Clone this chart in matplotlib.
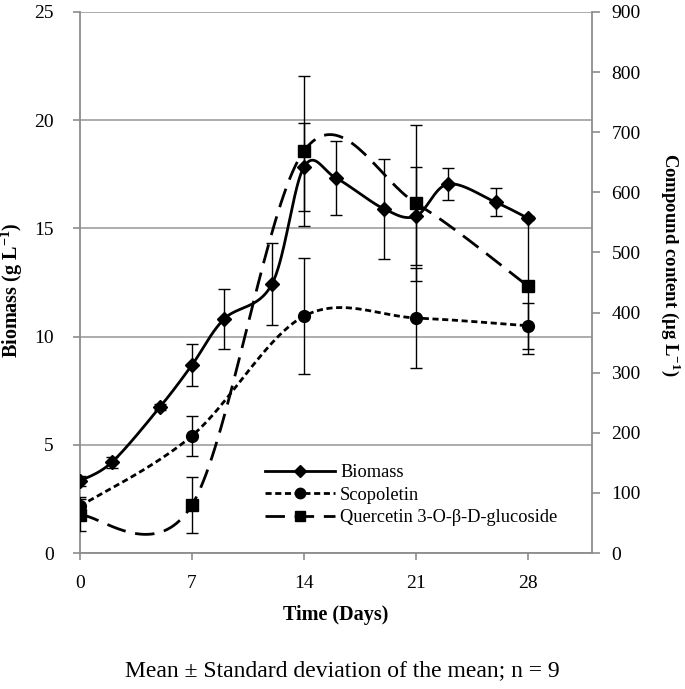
import numpy as np
import matplotlib
matplotlib.use("Agg")
import matplotlib.pyplot as plt
from matplotlib.lines import Line2D

plt.rcParams['font.family'] = ['Liberation Serif', 'DejaVu Serif']
plt.rcParams['mathtext.fontset'] = 'custom'
plt.rcParams['mathtext.rm'] = 'Liberation Serif'
plt.rcParams['mathtext.bf'] = 'Liberation Serif:bold'

# ---- data ----
biomass_days = [0, 2, 5, 7, 9, 12, 14, 16, 19, 21, 23, 26, 28]
biomass = [3.33, 4.2, 6.75, 8.69, 10.81, 12.43, 17.84, 17.33, 15.9, 15.57, 17.05, 16.2, 15.47]
biomass_err = [0.25, 0.25, 0.15, 0.95, 1.4, 1.9, 2.05, 1.7, 2.3, 2.25, 0.72, 0.65, 0.1]

compound_days = [0, 7, 14, 21, 28]
scopoletin = [78, 195, 394, 391, 378]
scopoletin_err = [15, 33, 96, 83, 38]
quercetin = [63, 80, 669, 582, 444]
quercetin_err = [27, 47, 125, 130, 113]

x_ticks = [0, 7, 14, 21, 28]
left_ticks = [0, 5, 10, 15, 20, 25]
right_ticks = list(range(0, 901, 100))

labels = ["Biomass", "Scopoletin", "Quercetin 3-O-\u03b2-D-glucoside"]


def smooth(x, y, n=40):
    """Excel-like smoothed line (Catmull-Rom Bezier) through the points."""
    x = np.asarray(x, float)
    y = np.asarray(y, float)
    P = np.column_stack([x, y])
    pts = [P[0]]
    N = len(P)
    for i in range(N - 1):
        p0 = P[i - 1] if i > 0 else P[i]
        p1 = P[i]
        p2 = P[i + 1]
        p3 = P[i + 2] if i + 2 < N else P[i + 1]
        c1 = p1 + (p2 - p0) / 6.0
        c2 = p2 - (p3 - p1) / 6.0
        t = np.linspace(0, 1, n)[1:, None]
        seg = ((1 - t) ** 3) * p1 + 3 * ((1 - t) ** 2) * t * c1 + 3 * (1 - t) * t ** 2 * c2 + t ** 3 * p2
        pts.extend(seg)
    pts = np.array(pts)
    return pts[:, 0], pts[:, 1]


W, H = 685, 689
fig = plt.figure(figsize=(W / 100, H / 100), dpi=100)
ax = fig.add_axes([80 / W, 1 - 553 / H, (592 - 80) / W, (553 - 12) / H])
ax2 = ax.twinx()

grey = '#8c8c8c'
lw = 2.0

# biomass (left axis)
bx, by = smooth(biomass_days, biomass)
ax.plot(bx, by, color='black', lw=lw, solid_capstyle='butt', zorder=3)
ax.errorbar(biomass_days, biomass, yerr=biomass_err, fmt='none', ecolor='black',
            elinewidth=1.0, capsize=4.5, capthick=1.0, zorder=3)
ax.plot(biomass_days, biomass, 'D', color='black', ms=7.5, zorder=4)

# compounds (right axis)
sx, sy = smooth(compound_days, scopoletin)
ax2.plot(sx, sy, color='black', lw=lw, dashes=(2.2, 1.3), zorder=3)
ax2.errorbar(compound_days, scopoletin, yerr=scopoletin_err, fmt='none', ecolor='black',
             elinewidth=1.0, capsize=4.5, capthick=1.0, zorder=3)
ax2.plot(compound_days, scopoletin, 'o', color='black', ms=8.5, zorder=4)

qx, qy = smooth(compound_days, quercetin)
ax2.plot(qx, qy, color='black', lw=lw, dashes=(7, 3.5), zorder=3)
ax2.errorbar(compound_days, quercetin, yerr=quercetin_err, fmt='none', ecolor='black',
             elinewidth=1.0, capsize=4.5, capthick=1.0, zorder=3)
ax2.plot(compound_days, quercetin, 's', color='black', ms=8, zorder=4)

# axes styling
ax.set_xlim(0, 32)
ax.set_ylim(0, 25)
ax2.set_ylim(0, 900)
ax.set_xticks(x_ticks)
ax.set_yticks(left_ticks)
ax2.set_yticks(right_ticks)
ax.yaxis.grid(True, color='#a6a6a6', lw=1.3)
ax.set_axisbelow(True)

for a in (ax, ax2):
    a.spines['top'].set_visible(False)
    for s in ['left', 'right', 'bottom']:
        a.spines[s].set_color(grey)
        a.spines[s].set_linewidth(1.3)
ax.spines['right'].set_visible(False)
ax2.spines['left'].set_visible(False)
ax2.spines['bottom'].set_visible(False)

ax.tick_params(axis='x', direction='out', length=5, width=1.2, color=grey,
               labelsize=14, pad=11)
ax.tick_params(axis='y', direction='out', length=5, width=1.2, color=grey,
               labelsize=14, pad=14)
ax2.tick_params(axis='y', direction='out', length=6, width=1.2, color=grey,
                labelsize=14, pad=8)

ax.set_xlabel('Time (Days)', fontsize=14.5, fontweight='bold', va='center')
ax.xaxis.set_label_coords(0.5, -(615 - 553) / 541)
ax.set_ylabel('Biomass (g L$^{\\mathbf{-1}}$)', fontsize=14.5, fontweight='bold',
              va='center', ha='center')
ax.yaxis.set_label_coords((12 - 80) / 512, (553 - 290) / 541)
ax2.set_ylabel('Compound content (\u03bcg L$^{\\mathbf{-1}}$)', fontsize=13.5,
               fontweight='bold', rotation=270, va='center', ha='center')
ax2.yaxis.set_label_coords((671 - 80) / 512, (553 - 265) / 541)

# legend
handles = [
    Line2D([], [], color='black', lw=lw, marker='D', ms=6.5),
    Line2D([], [], color='black', lw=lw, dashes=(2.2, 1.3), marker='o', ms=7.5),
    Line2D([], [], color='black', lw=lw, dashes=(7, 3.5), marker='s', ms=7),
]
leg = ax2.legend(handles, labels, loc='upper left', frameon=False, fontsize=13.2,
                 bbox_to_anchor=(265 / W, 1 - 464 / H), bbox_transform=fig.transFigure,
                 handlelength=3.8, handletextpad=0.3, labelspacing=0.3,
                 borderpad=0, borderaxespad=0, numpoints=1)

fig.text(342 / W, 1 - 671 / H, 'Mean \u00b1 Standard deviation of the mean; n = 9',
         ha='center', va='center', fontsize=17)

fig.savefig('out.png', dpi=100)
